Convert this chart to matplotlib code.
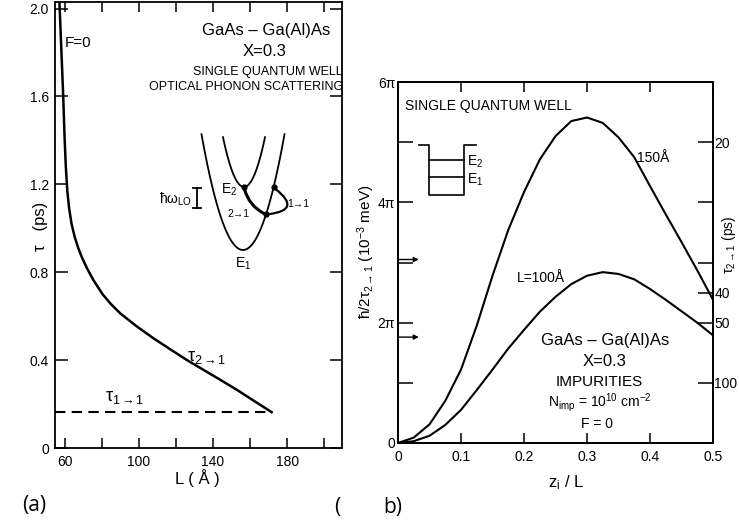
import numpy as np
import matplotlib
matplotlib.use('Agg')
import matplotlib.pyplot as plt
from matplotlib.patches import FancyArrowPatch

plt.rcParams['font.family'] = ['Liberation Sans', 'DejaVu Sans']
plt.rcParams['mathtext.fontset'] = 'custom'
plt.rcParams['mathtext.rm'] = 'Liberation Sans'
plt.rcParams['mathtext.it'] = 'Liberation Sans'
plt.rcParams['mathtext.bf'] = 'Liberation Sans:bold'

# ---------------- panel (a) data ----------------
L_a = [57.3, 58.3, 59.3, 60.0, 60.7, 61.5, 62.5, 63.8, 65.5, 67.4, 69.5, 72.0,
       75.5, 80.5, 85.0, 90.0, 99.0, 108.0, 117.0, 126.0, 135.0, 144.0, 153.0,
       162.0, 171.6]
tau21 = [2.02, 1.81, 1.60, 1.42, 1.28, 1.17, 1.09, 1.02, 0.96, 0.91, 0.865, 0.82,
         0.765, 0.70, 0.655, 0.613, 0.553, 0.499, 0.449, 0.40, 0.355, 0.31, 0.264,
         0.215, 0.163]
L_11 = [54.6, 171.6]
tau11 = [0.163, 0.163]
xticks_a = [60, 80, 100, 120, 140, 160, 180, 200]
xticklabels_a = ['60', '', '100', '', '140', '', '180', '']
yticks_a = [0, 0.4, 0.8, 1.2, 1.6, 2.0]
yticklabels_a = ['0', '0.4', '0.8', '1.2', '1.6', '2.0']

# ---------------- panel (b) data ----------------
z = [0, 0.025, 0.05, 0.075, 0.10, 0.125, 0.15, 0.175, 0.20, 0.225, 0.25, 0.275,
     0.30, 0.325, 0.35, 0.375, 0.40, 0.425, 0.45, 0.475, 0.50]
rate150 = [0, 0.09, 0.31, 0.70, 1.22, 1.95, 2.78, 3.54, 4.17, 4.71, 5.10, 5.35,
           5.41, 5.32, 5.08, 4.75, 4.27, 3.80, 3.34, 2.87, 2.38]
rate100 = [0, 0.03, 0.12, 0.30, 0.55, 0.88, 1.22, 1.57, 1.88, 2.18, 2.43, 2.64,
           2.78, 2.84, 2.81, 2.72, 2.56, 2.38, 2.19, 2.00, 1.79]
xticks_b = [0, 0.1, 0.2, 0.3, 0.4, 0.5]
xticklabels_b = ['0', '0.1', '0.2', '0.3', '0.4', '0.5']
yticks_b = [0, 1, 2, 3, 4, 5, 6]
yticklabels_b = ['0', '', '2π', '', '4π', '', '6π']
tau_right = [20, 25, 100 / 3, 40, 50, 100]
tau_right_labels = ['20', '', '', '40', '50', '100']
arrow_levels = [3.05, 1.76]

W, H = 739, 531
fig = plt.figure(figsize=(W / 100, H / 100), dpi=100)


def rect(l, t, r, b):
    return [l / W, 1 - b / H, (r - l) / W, (b - t) / H]


# ---------- panel (a) ----------
axA = fig.add_axes(rect(54.5, 2, 342, 448))
axA.plot(L_a, tau21, color='k', lw=1.8)
axA.plot(L_11, tau11, color='k', lw=1.5, ls=(0, (5, 3)))
axA.set_xlim(54.6, 209.5)
axA.set_ylim(0, 2.03)
axA.set_xticks(xticks_a)
axA.set_xticklabels(xticklabels_a)
axA.set_yticks(yticks_a)
axA.set_yticklabels(yticklabels_a)
axA.tick_params(axis='x', direction='in', length=7.5, width=1.1, top=True,
                labelsize=10, pad=5)
axA.tick_params(axis='y', direction='in', length=9, width=1.1, right=True,
                labelsize=10, pad=4)
for s in axA.spines.values():
    s.set_linewidth(1.3)

# ---------- panel (b) ----------
axB = fig.add_axes(rect(398, 82, 713, 443))
axB.plot(z, rate150, color='k', lw=1.5)
axB.plot(z, rate100, color='k', lw=1.5)
axB.set_xlim(0, 0.5)
axB.set_ylim(0, 6)
axB.set_xticks(xticks_b)
axB.set_xticklabels(xticklabels_b)
axB.set_yticks(yticks_b)
axB.set_yticklabels(yticklabels_b)
axB.tick_params(axis='x', direction='in', length=7, width=1.1, top=True,
                labelsize=10, pad=5)
axB.tick_params(axis='y', direction='in', length=10.5, width=1.1,
                labelsize=10, pad=2)
for s in axB.spines.values():
    s.set_linewidth(1.3)
for lev in arrow_levels:
    axB.annotate('', xy=(0.033, lev), xytext=(0, lev),
                 arrowprops=dict(arrowstyle='-|>', lw=1.0, color='k',
                                 mutation_scale=7, shrinkA=0, shrinkB=0))
axR = axB.twinx()
axR.set_ylim(0, 6)
axR.set_yticks([100 / t for t in tau_right])
axR.set_yticklabels(tau_right_labels)
axR.tick_params(axis='y', direction='in', length=10.5, width=1.1,
                labelsize=10, pad=1)
for s in axR.spines.values():
    s.set_linewidth(1.3)

# ---------- overlay in pixel units for annotations ----------
ov = fig.add_axes([0, 0, 1, 1], zorder=5)
ov.set_xlim(0, W)
ov.set_ylim(H, 0)
ov.axis('off')

# panel (a) texts
ov.text(65, 43, 'F=0', fontsize=11, ha='left', va='center')
ov.text(266, 30, 'GaAs – Ga(Al)As', fontsize=12, ha='center', va='center')
ov.text(265, 52, 'X=0.3', fontsize=12, ha='center', va='center')
ov.text(343, 72, 'SINGLE QUANTUM WELL', fontsize=9, ha='right', va='center')
ov.text(343, 87, 'OPTICAL PHONON SCATTERING', fontsize=9, ha='right', va='center')
ov.text(187, 357, r'$\tau_{2\rightarrow1}$', fontsize=13, ha='left', va='center')
ov.text(105, 398, r'$\tau_{1\rightarrow1}$', fontsize=13, ha='left', va='center')
ov.text(197, 478, 'L ( Å )', fontsize=12, ha='center', va='center')
ov.text(40, 226, 'τ   (ps)', fontsize=12, ha='center', va='center', rotation=90)

# inset schematic (dispersion parabolas) in pixel units
E1_vertex = (243, 250)
E1_curv = 0.0672
E1_halfwidth = 41.5
E2_vertex = (244, 187)
E2_curv = 0.113
E2_halfwidth = 21
for (vx, vy), c, hw in [(E1_vertex, E1_curv, E1_halfwidth), (E2_vertex, E2_curv, E2_halfwidth)]:
    xs = np.linspace(vx - hw, vx + hw, 80)
    ov.plot(xs, vy - c * (xs - vx) ** 2, color='k', lw=1.3)
p_low = (266, E1_vertex[1] - E1_curv * (266 - E1_vertex[0]) ** 2)
p_high = (273.5, E1_vertex[1] - E1_curv * (273.5 - E1_vertex[0]) ** 2)
ov.add_patch(FancyArrowPatch(E2_vertex, p_low, arrowstyle='-', lw=2.2,
                             connectionstyle='arc3,rad=0.25', color='k'))
ov.add_patch(FancyArrowPatch(p_low, p_high, arrowstyle='-', lw=1.6,
                             connectionstyle='arc3,rad=1.3', color='k'))
for p in [E2_vertex, p_low, p_high]:
    ov.plot(*p, 'o', color='k', ms=3.5)
ov.plot([197, 197], [188, 208], color='k', lw=1.3)
ov.plot([193, 201], [188, 188], color='k', lw=1.3)
ov.plot([193, 201], [208, 208], color='k', lw=1.3)
ov.text(192, 199, r'$\hbar\omega_{\rm LO}$', fontsize=10, ha='right', va='center')
ov.text(229, 190, r'E$_2$', fontsize=10, ha='center', va='center')
ov.text(243, 264, r'E$_1$', fontsize=10, ha='center', va='center')
ov.text(239, 214, '2→1', fontsize=7.5, ha='center', va='center')
ov.text(298, 204, '1→1', fontsize=7.5, ha='center', va='center')

# panel (b) texts
ov.text(405, 106, 'SINGLE QUANTUM WELL', fontsize=10, ha='left', va='center')
ov.text(637, 158, '150Å', fontsize=10, ha='left', va='center')
ov.text(517, 278, 'L=100Å', fontsize=10, ha='left', va='center')
ov.text(605, 340, 'GaAs – Ga(Al)As', fontsize=12, ha='center', va='center')
ov.text(605, 362, 'X=0.3', fontsize=12, ha='center', va='center')
ov.text(599, 382, 'IMPURITIES', fontsize=11, ha='center', va='center')
ov.text(600, 403, r'N$_{\rm imp}$ = 10$^{10}$ cm$^{-2}$', fontsize=10, ha='center', va='center')
ov.text(597, 424, 'F = 0', fontsize=10, ha='center', va='center')
ov.text(566, 483, r'z$_{\rm i}$ / L', fontsize=12, ha='center', va='center')
ov.text(366, 252, r'$\hbar/2\tau_{2\rightarrow1}$ (10$^{-3}$ meV)', fontsize=11,
        ha='center', va='center', rotation=90)
ov.text(729, 245, r'$\tau_{2\rightarrow1}$ (ps)', fontsize=10,
        ha='center', va='center', rotation=90)

# quantum well sketch
ov.plot([419, 429, 429, 464, 464, 476], [145, 145, 195, 195, 145, 145], color='k', lw=1.2)
ov.plot([429, 464], [160, 160], color='k', lw=1.2)
ov.plot([429, 464], [177, 177], color='k', lw=1.2)
ov.text(467, 162, r'E$_2$', fontsize=10, ha='left', va='center')
ov.text(467, 180, r'E$_1$', fontsize=10, ha='left', va='center')

# panel tags
ov.text(22, 505, '(a)', fontsize=15, ha='left', va='center', family='Open Sans')
ov.text(334, 507, '(', fontsize=15, ha='left', va='center', family='Open Sans')
ov.text(383, 508, 'b)', fontsize=15, ha='left', va='center', family='Open Sans')

fig.savefig('out.png', dpi=100)
